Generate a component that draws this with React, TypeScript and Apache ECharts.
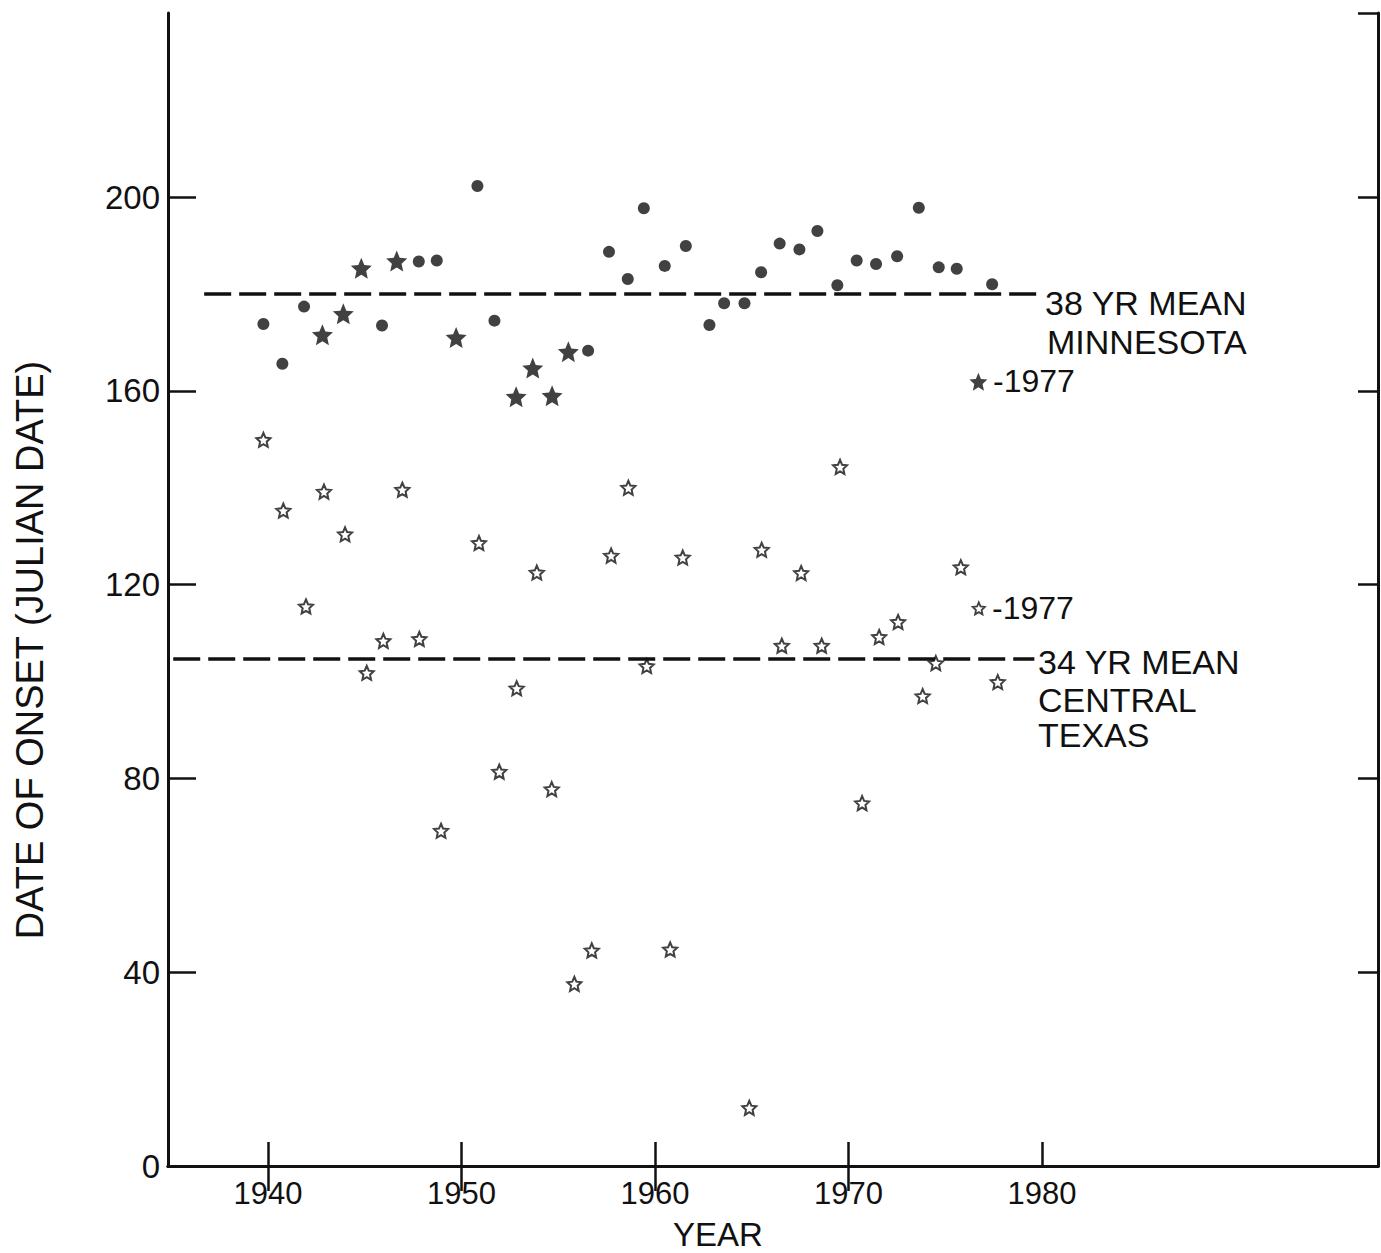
import React, { useEffect, useRef } from "react";
import * as echarts from "echarts";

// ---- Data (year, Julian date of onset) ----
const mnCircleYears = [1939.76, 1940.74, 1941.86, 1945.89, 1947.79, 1948.72, 1950.82, 1951.7, 1956.54, 1957.62, 1958.59, 1959.42, 1960.5, 1961.59, 1962.81, 1963.57, 1964.62, 1965.48, 1966.44, 1967.46, 1968.39, 1969.42, 1970.42, 1971.42, 1972.51, 1973.63, 1974.66, 1975.59, 1977.42];
const mnCircleDays = [173.8, 165.6, 177.4, 173.5, 186.7, 186.9, 202.3, 174.5, 168.3, 188.7, 183.1, 197.7, 185.8, 189.9, 173.6, 178.1, 178.1, 184.5, 190.4, 189.2, 193.0, 181.8, 186.9, 186.2, 187.8, 197.8, 185.5, 185.2, 182.0];

const mnStarYears = [1942.81, 1943.89, 1944.82, 1946.65, 1949.72, 1952.82, 1953.68, 1954.68, 1955.52];
const mnStarDays = [171.6, 175.9, 185.3, 186.8, 171.0, 158.8, 164.7, 159.0, 168.1];

const mn1977 = [1976.71, 161.9];

const txYears = [1939.76, 1940.79, 1941.96, 1942.89, 1943.98, 1945.1, 1945.96, 1946.94, 1947.82, 1948.94, 1950.9, 1951.95, 1952.85, 1953.89, 1954.66, 1955.83, 1956.73, 1957.73, 1958.62, 1959.57, 1960.78, 1961.43, 1964.87, 1965.51, 1966.55, 1967.55, 1968.61, 1969.56, 1970.7, 1971.58, 1972.56, 1973.83, 1974.51, 1975.8, 1977.71];
const txDays = [149.9, 135.3, 115.5, 139.2, 130.4, 101.8, 108.4, 139.6, 108.8, 69.2, 128.6, 81.4, 98.6, 122.5, 77.8, 37.6, 44.5, 126.0, 140.0, 103.2, 44.7, 125.6, 12.0, 127.2, 107.4, 122.4, 107.4, 144.3, 74.9, 109.2, 112.3, 97.0, 103.8, 123.6, 99.9];

const tx1977 = [1976.73, 115.1];

const mnMean = 180;
const mnMeanSpan = [1936.7, 1979.8];
const txMean = 104.8;
const txMeanSpan = [1935.1, 1979.6];

const xTickValues = [1940, 1950, 1960, 1970, 1980];
const xTopTickValues = [1940, 1950, 1960, 1970];
const xMin = 1934.83;
const xMax = 1997.36;
const yMin = 0;
const yMax = 238;
const yInterval = 40;

const INK = "#111";
const FONT = '"Liberation Sans", Arial, sans-serif';

function starPath(inner: number): string {
  const pts: string[] = [];
  for (let i = 0; i < 10; i++) {
    const r = i % 2 === 0 ? 1 : inner;
    const a = -Math.PI / 2 + (i * Math.PI) / 5;
    pts.push(`${(r * Math.cos(a)).toFixed(4)} ${(r * Math.sin(a)).toFixed(4)}`);
  }
  return "path://M" + pts.join(" L") + " Z";
}

const zip = (xs: number[], ys: number[]) => xs.map((x, i) => [x, ys[i]]);

export default function App() {
  const ref = useRef<HTMLDivElement>(null);

  useEffect(() => {
    document.body.style.margin = "0";
    if (!ref.current) return;
    const chart = echarts.init(ref.current, undefined, { renderer: "svg" });
    const star = starPath(0.46);
    const hollowStar = starPath(0.47);

    const textEl = (text: string, x: number, y: number, size: number, align = "left", rotation = 0) => ({
      type: "text",
      x,
      y,
      rotation,
      silent: true,
      style: {
        text,
        fill: INK,
        font: `${size}px ${FONT}`,
        align,
        verticalAlign: "middle",
      },
    });

    chart.setOption({
      animation: false,
      backgroundColor: "#fff",
      grid: { left: 168, top: 13, right: 3, bottom: 87, containLabel: false },
      xAxis: [
        {
          type: "value",
          position: "bottom",
          min: xMin,
          max: xMax,
          axisLine: { show: true, lineStyle: { color: INK, width: 3 } },
          axisTick: { show: true, inside: true, length: 24, customValues: xTickValues, lineStyle: { color: INK, width: 2.5 } },
          axisLabel: {
            show: true,
            customValues: xTickValues,
            formatter: (v: number) => String(Math.round(v)),
            color: INK,
            fontSize: 31,
            fontFamily: FONT,
            margin: 12,
          },
          splitLine: { show: false },
        },
        {
          type: "value",
          position: "top",
          min: xMin,
          max: xMax,
          axisLine: { show: true, lineStyle: { color: INK, width: 3 } },
          axisTick: { show: true, inside: true, length: 25, customValues: xTopTickValues, lineStyle: { color: INK, width: 2.5 } },
          axisLabel: { show: false },
          splitLine: { show: false },
        },
      ],
      yAxis: [
        {
          type: "value",
          position: "left",
          min: yMin,
          max: yMax,
          interval: yInterval,
          axisLine: { show: true, lineStyle: { color: INK, width: 3 } },
          axisTick: { show: true, inside: true, length: 28, lineStyle: { color: INK, width: 2.5 } },
          axisLabel: { show: true, color: INK, fontSize: 33, fontFamily: FONT, margin: 8, showMaxLabel: false },
          splitLine: { show: false },
        },
        {
          type: "value",
          position: "right",
          min: yMin,
          max: yMax,
          interval: yInterval,
          axisLine: { show: true, lineStyle: { color: INK, width: 3 } },
          axisTick: { show: true, inside: true, length: 20, lineStyle: { color: INK, width: 2.5 } },
          axisLabel: { show: false },
          splitLine: { show: false },
        },
      ],
      series: [
        {
          name: "Minnesota",
          type: "scatter",
          symbol: "circle",
          symbolSize: 12,
          itemStyle: { color: INK },
          data: zip(mnCircleYears, mnCircleDays),
          markLine: {
            silent: true,
            symbol: ["none", "none"],
            label: { show: false },
            lineStyle: { color: INK, width: 3.5, type: [27, 8] },
            data: [[{ coord: [mnMeanSpan[0], mnMean] }, { coord: [mnMeanSpan[1], mnMean] }]],
          },
        },
        {
          name: "Minnesota (star)",
          type: "scatter",
          symbol: star,
          symbolSize: 21,
          itemStyle: { color: INK },
          data: zip(mnStarYears, mnStarDays),
        },
        {
          name: "Minnesota 1977",
          type: "scatter",
          symbol: star,
          symbolSize: 18,
          itemStyle: { color: INK },
          data: [mn1977],
        },
        {
          name: "Central Texas",
          type: "scatter",
          symbol: hollowStar,
          symbolSize: 14,
          itemStyle: { color: "#fff", borderColor: INK, borderWidth: 2 },
          data: zip(txYears, txDays),
          markLine: {
            silent: true,
            symbol: ["none", "none"],
            label: { show: false },
            lineStyle: { color: INK, width: 3.5, type: [27, 8] },
            data: [[{ coord: [txMeanSpan[0], txMean] }, { coord: [txMeanSpan[1], txMean] }]],
          },
        },
        {
          name: "Central Texas 1977",
          type: "scatter",
          symbol: hollowStar,
          symbolSize: 12,
          itemStyle: { color: "#fff", borderColor: INK, borderWidth: 1.8 },
          data: [tx1977],
        },
      ],
      graphic: [
        textEl("DATE OF ONSET (JULIAN DATE)", 30, 650, 38, "center", Math.PI / 2),
        textEl("YEAR", 718, 1234, 33, "center"),
        textEl("38 YR MEAN", 1045, 303, 34),
        textEl("MINNESOTA", 1047, 342, 34),
        textEl("-1977", 993, 381, 32),
        textEl("-1977", 992, 608, 32),
        textEl("34 YR MEAN", 1038, 662, 34),
        textEl("CENTRAL", 1038, 700, 34),
        textEl("TEXAS", 1038, 735, 34),
      ],
    });

    return () => {
      chart.dispose();
    };
  }, []);

  return <div ref={ref} style={{ width: 1381, height: 1253 }} />;
}
